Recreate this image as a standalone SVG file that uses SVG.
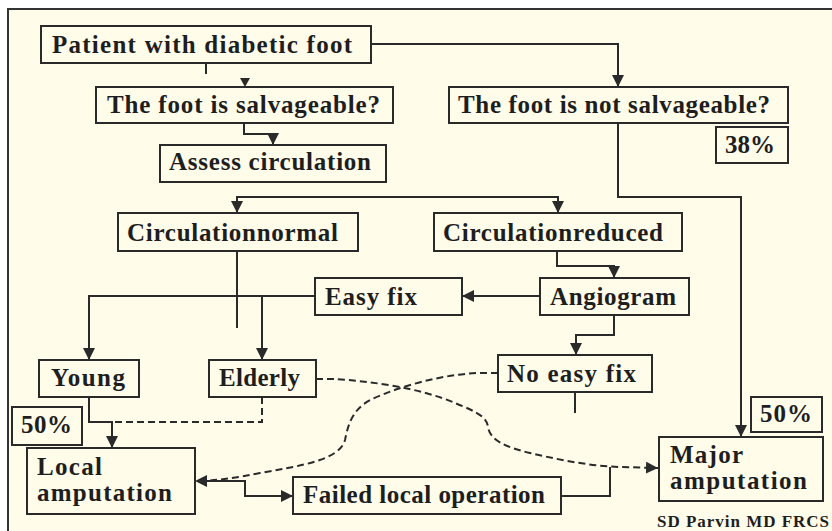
<svg xmlns="http://www.w3.org/2000/svg" width="832" height="531" viewBox="0 0 832 531">
<style>
.box{fill:#FFFCEA;stroke:#2a2a2a;stroke-width:2}
.t{font-family:"Liberation Serif","Times New Roman",serif;font-weight:bold;font-size:25px;fill:#1e1e1e}
.c{fill:none;stroke:#2a2a2a;stroke-width:2}
.d{fill:none;stroke:#2a2a2a;stroke-width:2;stroke-dasharray:7,4}
</style>
<defs>
<marker id="ah" markerUnits="userSpaceOnUse" markerWidth="12" markerHeight="12" refX="10" refY="5" orient="auto-start-reverse" viewBox="0 0 10 10">
<path d="M0,0 L10,5 L0,10 Z" fill="#2a2a2a"/>
</marker>
</defs>
<rect x="0" y="0" width="832" height="531" fill="#ffffff"/>
<rect x="8" y="9" width="840" height="540" fill="#FFFCEA" stroke="#333" stroke-width="2"/>
<g id="connectors">
<polyline class="c" points="371,44 618,44 618,87" marker-end="url(#ah)"/>
<line class="c" x1="206" y1="63" x2="206" y2="74"/>
<path d="M240,78 L250,78 L245,87 Z" fill="#2a2a2a"/>
<polyline class="c" points="244,123 244,134 273,134 273,145" marker-end="url(#ah)"/>
<polyline class="c" points="237,213 237,197 558,197 558,213" marker-start="url(#ah)" marker-end="url(#ah)"/>
<polyline class="c" points="618,123 618,197 741,197 741,437" marker-end="url(#ah)"/>
<line class="c" x1="237" y1="251" x2="237" y2="328"/>
<polyline class="c" points="315,296 89,296 89,360" marker-end="url(#ah)"/>
<polyline class="c" points="262,296 262,360" marker-end="url(#ah)"/>
<polyline class="c" points="557,251 557,266 614,266 614,278" marker-end="url(#ah)"/>
<polyline class="c" points="540,296 462,296" marker-end="url(#ah)"/>
<polyline class="c" points="614,315 614,335 576,335 576,355" marker-end="url(#ah)"/>
<line class="c" x1="575" y1="392" x2="575" y2="413"/>
<polyline class="c" points="89,397 89,422 112,422 112,448" marker-end="url(#ah)"/>
<polyline class="d" points="262,397 262,422 112,422" stroke-dasharray="5,3"/>
<path class="d" d="M316,379 L333,379 C370,381 420,388 455,403 C480,413 487,418 488,427 C490,440 505,447 530,453 C560,460 590,466 620,467 L658,468" marker-end="url(#ah)"/>
<path class="d" d="M498,373 L477,373 C440,375 400,386 370,400 C352,410 348,425 345,440 C340,460 300,466 260,473 C235,478 215,481 195,481" marker-end="url(#ah)"/>
<polyline class="c" points="205,481 245,481 245,496 293,496" marker-end="url(#ah)"/>
<polyline class="c" points="561,496 610,496 610,467"/>
</g>
<g id="n-patient"><rect class="box" x="41" y="26" width="330" height="37"/><text class="t" x="52" y="53" textLength="300" lengthAdjust="spacing">Patient with diabetic foot</text></g>
<g id="n-salv"><rect class="box" x="96" y="87" width="297" height="36"/><text class="t" x="107" y="113" textLength="273" lengthAdjust="spacing">The foot is salvageable?</text></g>
<g id="n-assess"><rect class="box" x="160" y="145" width="226" height="37"/><text class="t" x="169" y="170" textLength="202" lengthAdjust="spacing">Assess circulation</text></g>
<g id="n-notsalv"><rect class="box" x="449" y="87" width="339" height="36"/><text class="t" x="458" y="113" textLength="312" lengthAdjust="spacing">The foot is not salvageable?</text></g>
<g id="n-38"><rect class="box" x="716" y="127" width="72" height="36"/><text class="t" x="725" y="153" textLength="50" lengthAdjust="spacing">38%</text></g>
<g id="n-circnormal"><rect class="box" x="118" y="213" width="240" height="38"/><text class="t" x="127" y="241" textLength="211" lengthAdjust="spacing">Circulationnormal</text></g>
<g id="n-circreduced"><rect class="box" x="434" y="213" width="248" height="38"/><text class="t" x="443" y="241" textLength="220" lengthAdjust="spacing">Circulationreduced</text></g>
<g id="n-easyfix"><rect class="box" x="315" y="278" width="147" height="37"/><text class="t" x="325" y="305" textLength="92" lengthAdjust="spacing">Easy fix</text></g>
<g id="n-angiogram"><rect class="box" x="540" y="278" width="149" height="37"/><text class="t" x="550" y="305" textLength="126" lengthAdjust="spacing">Angiogram</text></g>
<g id="n-young"><rect class="box" x="39" y="360" width="100" height="37"/><text class="t" x="51" y="386" textLength="74" lengthAdjust="spacing">Young</text></g>
<g id="n-elderly"><rect class="box" x="209" y="360" width="107" height="37"/><text class="t" x="219" y="386" textLength="81" lengthAdjust="spacing">Elderly</text></g>
<g id="n-50left"><rect class="box" x="12" y="407" width="70" height="38"/><text class="t" x="21" y="433" textLength="51" lengthAdjust="spacing">50%</text></g>
<g id="n-local"><rect class="box" x="27" y="448" width="168" height="66"/><text class="t" x="37" y="475" textLength="65" lengthAdjust="spacing">Local</text><text class="t" x="37" y="501" textLength="135" lengthAdjust="spacing">amputation</text></g>
<g id="n-failed"><rect class="box" x="293" y="477" width="268" height="37"/><text class="t" x="303" y="503" textLength="242" lengthAdjust="spacing">Failed local operation</text></g>
<g id="n-noeasyfix"><rect class="box" x="498" y="355" width="154" height="37"/><text class="t" x="507" y="382" textLength="129" lengthAdjust="spacing">No easy fix</text></g>
<g id="n-50right"><rect class="box" x="751" y="397" width="71" height="35"/><text class="t" x="760" y="422" textLength="52" lengthAdjust="spacing">50%</text></g>
<g id="n-major"><rect class="box" x="659" y="437" width="164" height="64"/><text class="t" x="670" y="463" textLength="73" lengthAdjust="spacing">Major</text><text class="t" x="670" y="489" textLength="137" lengthAdjust="spacing">amputation</text></g>
<g id="credit"><text class="t" x="657" y="527" style="font-size:17px" textLength="172" lengthAdjust="spacing">SD Parvin MD FRCS</text></g>
</svg>
